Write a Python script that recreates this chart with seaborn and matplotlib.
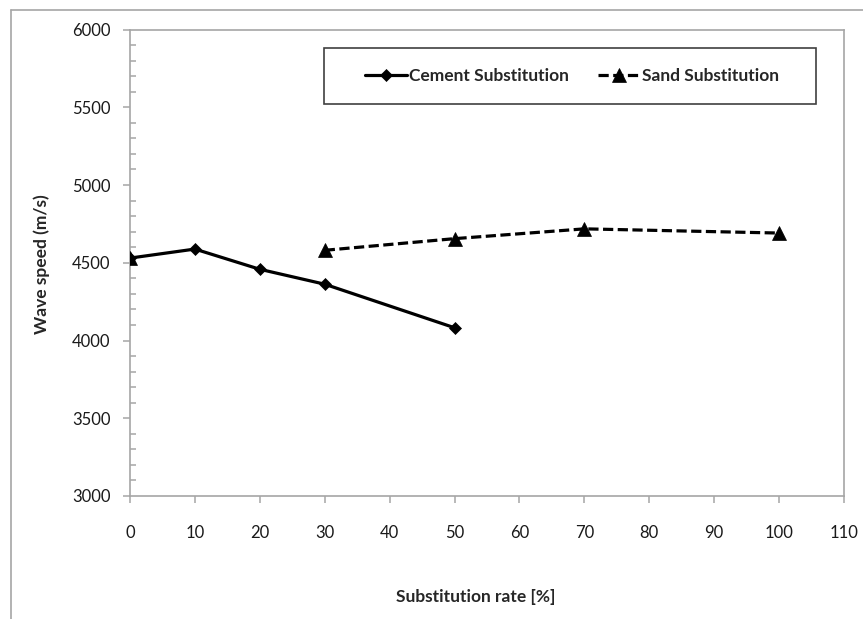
import numpy as np
import pandas as pd
import matplotlib
matplotlib.use("Agg")
import matplotlib.pyplot as plt
from matplotlib.lines import Line2D
from matplotlib.patches import Rectangle
from matplotlib.ticker import MultipleLocator
import seaborn as sns

# Substitution rate [%] and measured wave speed [m/s]
cement_rate = [0, 10, 20, 30, 50]
cement_speed = [4530, 4588, 4458, 4362, 4082]

sand_rate = [0, 10, 20, 30, 50, 70, 100]
sand_speed = [4530, np.nan, np.nan, 4580, 4655, 4718, 4691]

x_ticks = list(range(0, 111, 10))
y_ticks = list(range(3000, 6001, 500))

sns.set_theme(style="white")
plt.rcParams["font.family"] = ["Lato", "DejaVu Sans"]

W, H = 863, 619
fig = plt.figure(figsize=(W / 100, H / 100), dpi=100)
ax = fig.add_axes([130 / W, (H - 496) / H, (844 - 130) / W, (496 - 29.5) / H])

grey = "#a6a6a6"

cement = pd.DataFrame({"rate": cement_rate, "speed": cement_speed})
sns.lineplot(data=cement, x="rate", y="speed", ax=ax, color="black",
             linewidth=2.3, marker="D", markersize=6.5, markeredgewidth=0.5,
             markeredgecolor="black", label="Cement Substitution", zorder=3)

# Sand series: empty cells split the curve into separate runs
sand = pd.DataFrame({"rate": sand_rate, "speed": sand_speed})
valid = sand["speed"].notna()
run_id = (~valid).cumsum()
runs = [g for _, g in sand[valid].groupby(run_id[valid])]
for seg in runs:
    lbl = "Sand Substitution" if len(seg) > 1 else None
    sns.lineplot(data=seg, x="rate", y="speed", ax=ax, color="black",
                 linewidth=2.3, linestyle=(0, (3.2, 1.4)), marker="^",
                 markersize=9.5, markeredgewidth=0.5, markeredgecolor="black",
                 label=lbl, zorder=4)

ax.set_xlim(0, 110)
ax.set_ylim(3000, 6000)
ax.set_xticks(x_ticks)
ax.set_yticks(y_ticks)
ax.yaxis.set_minor_locator(MultipleLocator(100))

for s in ax.spines.values():
    s.set_color(grey)
    s.set_linewidth(1.2)

ax.tick_params(axis="both", which="major", direction="out", length=5,
               width=1.1, color=grey, labelsize=12, labelcolor="#1a1a1a")
ax.tick_params(axis="y", which="minor", direction="in", length=4,
               width=1.1, color=grey, left=True)
ax.tick_params(axis="y", which="major", pad=9, left=True)
ax.tick_params(axis="x", which="major", pad=16, bottom=True)

ax.set_xlabel("Substitution rate [%]", fontsize=12.5, fontweight="bold")
ax.set_ylabel("Wave speed (m/s)", fontsize=12.5, fontweight="bold")
ax.xaxis.set_label_coords((476 - 130) / 714, (496 - 597) / 466.5)
ax.xaxis.label.set_va("center")
ax.yaxis.set_label_coords((42 - 130) / 714, (496 - 264) / 466.5)
ax.yaxis.label.set_va("center")

# Legend inside a square frame
ax.add_patch(Rectangle(((324 - 130) / 714, (496 - 104) / 466.5),
                       (816 - 324) / 714, (104 - 48) / 466.5,
                       transform=ax.transAxes, fill=True, facecolor="white",
                       edgecolor="#404040", linewidth=1.2, zorder=5))
leg = ax.legend(loc="center", bbox_to_anchor=((572 - 130) / 714, (496 - 76) / 466.5),
                ncol=2, frameon=False, handlelength=2.4, handletextpad=0.1,
                columnspacing=1.7, prop={"weight": "bold", "size": 12.5})
leg.set_zorder(6)

# Outer chart border
fig.add_artist(Line2D([11 / W, 1.0], [(H - 9.5) / H, (H - 9.5) / H],
                      transform=fig.transFigure, color=grey, linewidth=1.2))
fig.add_artist(Line2D([11 / W, 11 / W], [0.0, (H - 9.5) / H],
                      transform=fig.transFigure, color=grey, linewidth=1.2))

fig.savefig("out.png", dpi=100, facecolor="white")
